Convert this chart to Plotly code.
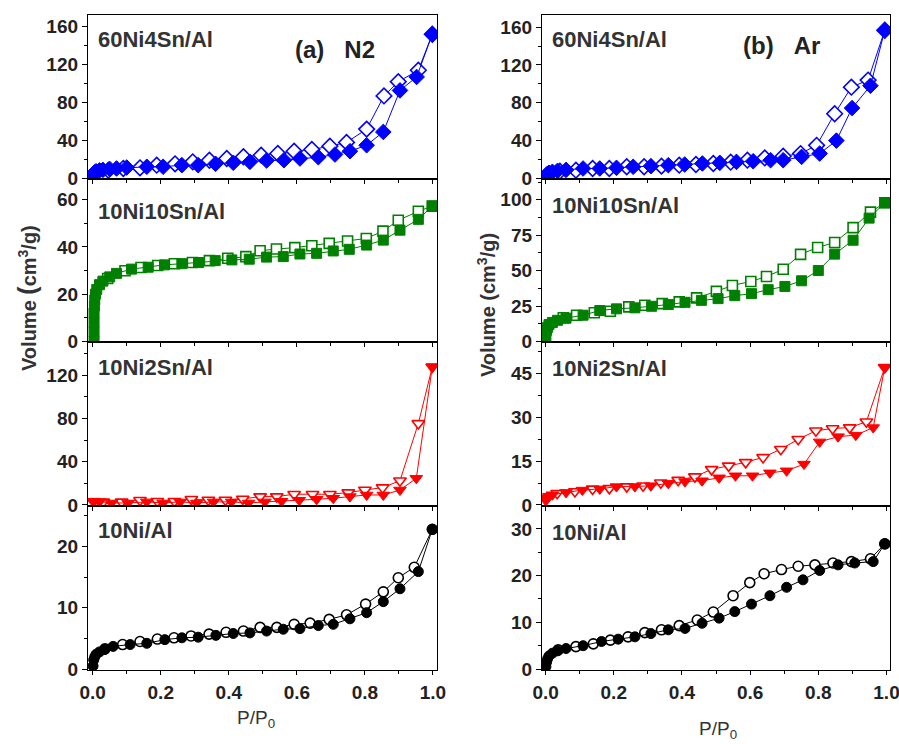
import plotly.graph_objects as go

# ---------------- data: adsorption (filled) / desorption (open) branches ----------------
# (a) N2
n2_60ni4sn_ads_x = [0.001, 0.003, 0.006, 0.01, 0.02, 0.03, 0.05, 0.07, 0.1, 0.159, 0.207, 0.262, 0.31, 0.361,
                    0.413, 0.462, 0.511, 0.562, 0.609, 0.663, 0.712, 0.756, 0.805, 0.854, 0.903, 0.952, 0.998]
n2_60ni4sn_ads_y = [3, 5, 6.5, 7.5, 8.5, 9, 10, 10.5, 11.5, 12.3, 12.3, 14, 14, 15.4,
                    16.5, 17.5, 18.9, 19.2, 21, 22.4, 25.2, 28.7, 35, 49, 92.8, 107, 152]
n2_60ni4sn_des_x = [0.998, 0.957, 0.898, 0.856, 0.805, 0.746, 0.697, 0.644, 0.592, 0.544, 0.495, 0.443, 0.394,
                    0.343, 0.294, 0.242, 0.188, 0.139, 0.09, 0.046]
n2_60ni4sn_des_y = [152, 114, 102, 87, 52, 38, 34, 30.5, 28.7, 26.3, 24.5, 22.8, 21,
                    19.2, 17.5, 15.4, 14, 11.2, 10.5, 8.7]

n2_10ni10sn_ads_x = [0.004, 0.004, 0.004, 0.004, 0.005, 0.006, 0.008, 0.012, 0.02, 0.03, 0.05, 0.07, 0.114, 0.163,
                     0.211, 0.262, 0.311, 0.36, 0.409, 0.46, 0.511, 0.56, 0.609, 0.658, 0.707, 0.754, 0.805, 0.854,
                     0.903, 0.957, 0.998]
n2_10ni10sn_ads_y = [0, 4, 8, 12, 15, 17.5, 20, 22, 24, 25.5, 27.3, 28.8, 30.6, 31.4,
                     32.4, 32.9, 33.4, 34.2, 34.5, 34.8, 35.7, 35.9, 37, 37.3, 38.3, 39, 40.8, 42.9,
                     47.1, 51.7, 57.3]
n2_10ni10sn_des_x = [0.998, 0.957, 0.898, 0.853, 0.804, 0.749, 0.695, 0.644, 0.594, 0.54, 0.492, 0.45, 0.397,
                     0.343, 0.293, 0.24, 0.191, 0.142, 0.095, 0.044]
n2_10ni10sn_des_y = [57.3, 55.1, 51.3, 46.7, 43.6, 42.5, 41.5, 40.5, 39.7, 39.1, 38.4, 35.9, 35.2,
                     34.2, 33.4, 32.9, 32.1, 31.3, 29.9, 26.6]

n2_10ni2sn_ads_x = [0.001, 0.005, 0.02, 0.055, 0.104, 0.159, 0.207, 0.257, 0.306, 0.355, 0.408, 0.458, 0.506,
                    0.555, 0.607, 0.658, 0.707, 0.756, 0.805, 0.854, 0.903, 0.951, 0.998]
n2_10ni2sn_ads_y = [3, 3.5, 3, 1.8, 1.8, 2.8, 1.8, 2.8, 1.8, 2.8, 2.8, 1.8, 2.8,
                    3.4, 4.3, 5.2, 6.2, 7.7, 9.2, 9.2, 13.8, 24.6, 127.7]
n2_10ni2sn_des_x = [0.998, 0.957, 0.903, 0.852, 0.8, 0.751, 0.697, 0.646, 0.592, 0.541, 0.492, 0.441, 0.39,
                    0.34, 0.29, 0.24, 0.19, 0.139, 0.085, 0.031]
n2_10ni2sn_des_y = [127.7, 75.4, 22.4, 16, 13.8, 11.4, 9.9, 9.9, 9.9, 7.7, 7.7, 5.5, 4.6,
                    4.6, 5.2, 3.4, 3.4, 4.3, 2.8, 2.8]

n2_10ni_ads_x = [0.001, 0.003, 0.006, 0.01, 0.02, 0.035, 0.06, 0.11, 0.159, 0.212, 0.262, 0.31, 0.362, 0.413,
                 0.462, 0.511, 0.56, 0.609, 0.663, 0.707, 0.756, 0.805, 0.854, 0.903, 0.957, 0.998]
n2_10ni_ads_y = [0.5, 1.5, 2, 2.4, 2.8, 3.2, 3.7, 4.0, 4.2, 4.8, 5.1, 5.2, 5.5, 5.8,
                 5.9, 6.2, 6.5, 6.6, 7.1, 7.3, 8.2, 9.2, 11, 13.1, 15.9, 22.8]
n2_10ni_des_x = [0.998, 0.945, 0.898, 0.854, 0.802, 0.746, 0.695, 0.639, 0.592, 0.541, 0.492, 0.443, 0.392,
                 0.342, 0.289, 0.239, 0.19, 0.139, 0.088, 0.036]
n2_10ni_des_y = [22.8, 16.6, 14.9, 12.6, 10.6, 8.85, 8.1, 7.5, 7.3, 6.8, 6.8, 6.2, 6.0,
                 5.7, 5.4, 5.1, 4.9, 4.5, 4.0, 3.3]

# (b) Ar
ar_60ni4sn_ads_x = [0.001, 0.003, 0.006, 0.01, 0.02, 0.035, 0.06, 0.11, 0.159, 0.208, 0.257, 0.309, 0.36, 0.408,
                    0.46, 0.511, 0.56, 0.609, 0.66, 0.697, 0.751, 0.804, 0.853, 0.899, 0.953, 0.995]
ar_60ni4sn_ads_y = [2, 4, 5, 6, 7, 8, 9, 10.5, 10.5, 11.2, 12.3, 13, 14, 14.7,
                    15.8, 16.5, 17.5, 18.2, 19.3, 19.3, 22.8, 26.3, 40, 74.4, 98, 156.7]
ar_60ni4sn_des_x = [0.995, 0.946, 0.897, 0.848, 0.795, 0.748, 0.697, 0.643, 0.592, 0.543, 0.492, 0.441, 0.392,
                    0.34, 0.289, 0.238, 0.187, 0.138, 0.089, 0.042]
ar_60ni4sn_des_y = [156.7, 104, 96.5, 68.4, 35, 26.3, 23.5, 21.7, 19.3, 17.2, 15.8, 14.7, 14,
                    13, 12.3, 12.3, 10.5, 10.5, 8.7, 7.7]

ar_10ni10sn_ads_x = [0.001, 0.003, 0.006, 0.01, 0.02, 0.035, 0.06, 0.11, 0.159, 0.208, 0.262, 0.311, 0.36, 0.409,
                     0.457, 0.506, 0.555, 0.604, 0.653, 0.702, 0.751, 0.8, 0.848, 0.902, 0.949, 0.995]
ar_10ni10sn_ads_y = [3, 8, 10, 12, 13.5, 15, 16.5, 18.6, 21.9, 23.1, 23.8, 24.9, 26.1, 27.7,
                     29.1, 30.3, 32.4, 33.8, 36.6, 38.9, 42.9, 50.1, 61.7, 71.5, 87.1, 97.9]
ar_10ni10sn_des_x = [0.995, 0.953, 0.902, 0.848, 0.798, 0.748, 0.697, 0.648, 0.602, 0.548, 0.501, 0.443, 0.392,
                     0.342, 0.291, 0.244, 0.19, 0.143, 0.091, 0.052]
ar_10ni10sn_des_y = [97.9, 91.3, 80.4, 69.9, 66.4, 61.5, 51, 45.9, 42.4, 39.6, 35.4, 30.8, 28,
                     26.8, 25.6, 24.5, 21.4, 20.3, 18.6, 16.8]

ar_10ni2sn_ads_x = [0.001, 0.004, 0.01, 0.02, 0.06, 0.108, 0.159, 0.208, 0.262, 0.309, 0.36, 0.409, 0.459,
                    0.509, 0.557, 0.607, 0.658, 0.707, 0.758, 0.804, 0.858, 0.91, 0.961, 0.995]
ar_10ni2sn_ads_y = [1.5, 2.5, 3, 3.5, 4.3, 5.1, 5.5, 6.3, 6.3, 6.6, 7.4, 8, 8.3,
                    9.3, 10, 10, 11, 11.7, 14, 21.6, 23.4, 23.9, 26.5, 47.1]
ar_10ni2sn_des_x = [0.995, 0.941, 0.892, 0.842, 0.793, 0.741, 0.69, 0.638, 0.587, 0.537, 0.487, 0.438, 0.389,
                    0.338, 0.286, 0.238, 0.187, 0.138, 0.086, 0.034]
ar_10ni2sn_des_y = [47.1, 28.5, 26.5, 26.2, 25.4, 22.5, 19.1, 16.3, 14.6, 13.4, 12.2, 9.7, 8.5,
                    7.6, 6.6, 6.3, 5.7, 5.5, 4.6, 4.0]

ar_10ni_ads_x = [0.001, 0.003, 0.006, 0.01, 0.02, 0.035, 0.06, 0.11, 0.164, 0.213, 0.262, 0.309, 0.36, 0.409,
                 0.459, 0.509, 0.555, 0.604, 0.658, 0.707, 0.755, 0.804, 0.858, 0.907, 0.961, 0.995]
ar_10ni_ads_y = [0.5, 1.5, 2.2, 2.8, 3.4, 3.9, 4.4, 5.0, 5.9, 6.4, 6.9, 7.6, 8.4, 8.7,
                 9.8, 10.9, 12.3, 13.9, 15.7, 17.5, 19.1, 21.1, 22.3, 22.7, 23.0, 26.8]
ar_10ni_des_x = [0.995, 0.953, 0.897, 0.843, 0.79, 0.741, 0.692, 0.641, 0.599, 0.55, 0.492, 0.445, 0.392,
                 0.34, 0.291, 0.242, 0.19, 0.14, 0.089, 0.037]
ar_10ni_des_y = [26.8, 23.6, 23.0, 22.7, 22.3, 22.0, 21.3, 20.4, 18.5, 15.7, 12.2, 10.5, 9.3,
                 8.4, 7.8, 6.9, 6.2, 5.4, 4.8, 4.1]

sample_labels = ["60Ni4Sn/Al", "10Ni10Sn/Al", "10Ni2Sn/Al", "10Ni/Al"]
tick_labels_x = ["0.0", "0.2", "0.4", "0.6", "0.8", "1.0"]

# ---------------- panel styling ----------------
W, H = 899, 744
col_px = [(88, 437), (542, 890)]
row_px = [(15, 179), (179, 342), (342, 506), (506, 670)]
label_offsets = [[25, 33, 25, 24], [25, 27, 26, 26]]
x_ranges = [[-0.0138, 1.0118], [-0.0105, 1.0103]]
y_ranges = [
    [[-0.6, 172.3], [-0.3, 68.8], [-1.0, 150.7], [-0.15, 26.6]],
    [[-0.6, 172.8], [-0.3, 114.7], [-0.35, 55.8], [-0.2, 34.9]],
]
y_dticks = [[40, 20, 40, 10], [40, 25, 15, 10]]
colors = ["#0000ff", "#008000", "#ff0000", "#000000"]
symbols = ["diamond", "square", "triangle-down", "circle"]
msizes = [12, 10, 11, 10]

series = [
    [(n2_60ni4sn_ads_x, n2_60ni4sn_ads_y, n2_60ni4sn_des_x, n2_60ni4sn_des_y),
     (n2_10ni10sn_ads_x, n2_10ni10sn_ads_y, n2_10ni10sn_des_x, n2_10ni10sn_des_y),
     (n2_10ni2sn_ads_x, n2_10ni2sn_ads_y, n2_10ni2sn_des_x, n2_10ni2sn_des_y),
     (n2_10ni_ads_x, n2_10ni_ads_y, n2_10ni_des_x, n2_10ni_des_y)],
    [(ar_60ni4sn_ads_x, ar_60ni4sn_ads_y, ar_60ni4sn_des_x, ar_60ni4sn_des_y),
     (ar_10ni10sn_ads_x, ar_10ni10sn_ads_y, ar_10ni10sn_des_x, ar_10ni10sn_des_y),
     (ar_10ni2sn_ads_x, ar_10ni2sn_ads_y, ar_10ni2sn_des_x, ar_10ni2sn_des_y),
     (ar_10ni_ads_x, ar_10ni_ads_y, ar_10ni_des_x, ar_10ni_des_y)],
]

FONT = "Arial, 'Liberation Sans', sans-serif"
tickfont = dict(family=FONT, size=19, color="#222222", weight="bold")

fig = go.Figure()
layout = dict(width=W, height=H, margin=dict(l=0, r=0, t=0, b=0, autoexpand=False),
              paper_bgcolor="white", plot_bgcolor="white", showlegend=False)
annotations = []

n = 0
for c in range(2):
    for r in range(4):
        n += 1
        xa = "x" if n == 1 else f"x{n}"
        ya = "y" if n == 1 else f"y{n}"
        ax_x = "xaxis" if n == 1 else f"xaxis{n}"
        ax_y = "yaxis" if n == 1 else f"yaxis{n}"
        x0, x1 = col_px[c]
        y0, y1 = row_px[r]
        bottom = (r == 3)
        layout[ax_x] = dict(
            domain=[x0 / W, x1 / W], anchor=ya, range=x_ranges[c], automargin=False,
            showgrid=False, zeroline=False, showline=True, linecolor="black",
            linewidth=1.3, mirror=True, ticks="outside", ticklen=4, tickwidth=1.2,
            tickcolor="black", tickvals=[0, 0.2, 0.4, 0.6, 0.8, 1.0],
            ticktext=tick_labels_x, showticklabels=bottom, tickfont=tickfont,
            ticklabelstandoff=1, ticklabeloverflow="allow",
            minor=dict(dtick=0.1, tick0=0, ticks="outside", ticklen=3,
                       tickwidth=1.2, tickcolor="black"),
        )
        layout[ax_y] = dict(
            domain=[1 - y1 / H, 1 - y0 / H], anchor=xa, range=y_ranges[c][r], automargin=False,
            showgrid=False, zeroline=False, showline=True, linecolor="black",
            linewidth=1.3, mirror=True, ticks="outside", ticklen=5, tickwidth=1.2,
            tickcolor="black", dtick=y_dticks[c][r], tick0=0, tickfont=tickfont,
            ticklabeloverflow="allow",
            minor=dict(dtick=y_dticks[c][r] / 2, tick0=0, ticks="outside",
                       ticklen=3, tickwidth=1.2, tickcolor="black"),
        )
        ads_x, ads_y, des_x, des_y = series[c][r]
        col = colors[r]
        # desorption branch: open markers
        fig.add_trace(go.Scatter(
            x=des_x, y=des_y, xaxis=xa, yaxis=ya, mode="lines+markers",
            line=dict(color=col, width=1),
            marker=dict(symbol=symbols[r], size=msizes[r], color="white",
                        line=dict(color=col, width=1.6)),
            cliponaxis=True))
        # adsorption branch: filled markers
        fig.add_trace(go.Scatter(
            x=ads_x, y=ads_y, xaxis=xa, yaxis=ya, mode="lines+markers",
            line=dict(color=col, width=1),
            marker=dict(symbol=symbols[r], size=msizes[r], color=col,
                        line=dict(color=col, width=1)),
            cliponaxis=True))
        # sample label in the panel's upper-left corner
        annotations.append(dict(
            text=sample_labels[r], xref="paper", yref="paper",
            x=(x0 + 8) / W, y=1 - (y0 + label_offsets[c][r]) / H, xanchor="left", yanchor="middle",
            showarrow=False, font=dict(family=FONT, size=22, color="#333333", weight="bold")))

# panel titles
annotations.append(dict(text="(a)\u00a0\u00a0\u00a0N2", xref="paper", yref="paper", x=335 / W, y=1 - 50 / H,
                        xanchor="center", yanchor="middle", showarrow=False,
                        font=dict(family=FONT, size=24, color="#222222", weight="bold")))
annotations.append(dict(text="(b)\u00a0\u00a0\u00a0Ar", xref="paper", yref="paper", x=781 / W, y=1 - 46 / H,
                        xanchor="center", yanchor="middle", showarrow=False,
                        font=dict(family=FONT, size=24, color="#222222", weight="bold")))

# axis titles
ytitle_left = "Volume <span style='font-size:25px'>(</span>cm<sup>3</sup>/g)"
ytitle_right = "Volume (cm<sup>3</sup>/g)"
annotations.append(dict(text=ytitle_left, xref="paper", yref="paper", x=27 / W, y=1 - 298 / H,
                        xanchor="center", yanchor="middle", textangle=-90, showarrow=False,
                        font=dict(family=FONT, size=20, color="#333333", weight="bold")))
annotations.append(dict(text=ytitle_right, xref="paper", yref="paper", x=486 / W, y=1 - 305 / H,
                        xanchor="center", yanchor="middle", textangle=-90, showarrow=False,
                        font=dict(family=FONT, size=20, color="#333333", weight="bold")))
annotations.append(dict(text="P/P<sub>0</sub>", xref="paper", yref="paper", x=256 / W, y=1 - 719 / H,
                        xanchor="center", yanchor="middle", showarrow=False,
                        font=dict(family=FONT, size=19, color="#333333")))
annotations.append(dict(text="P/P<sub>0</sub>", xref="paper", yref="paper", x=718 / W, y=1 - 730 / H,
                        xanchor="center", yanchor="middle", showarrow=False,
                        font=dict(family=FONT, size=19, color="#333333")))

layout["annotations"] = annotations
fig.update_layout(**layout)
fig.write_html("out.html")
